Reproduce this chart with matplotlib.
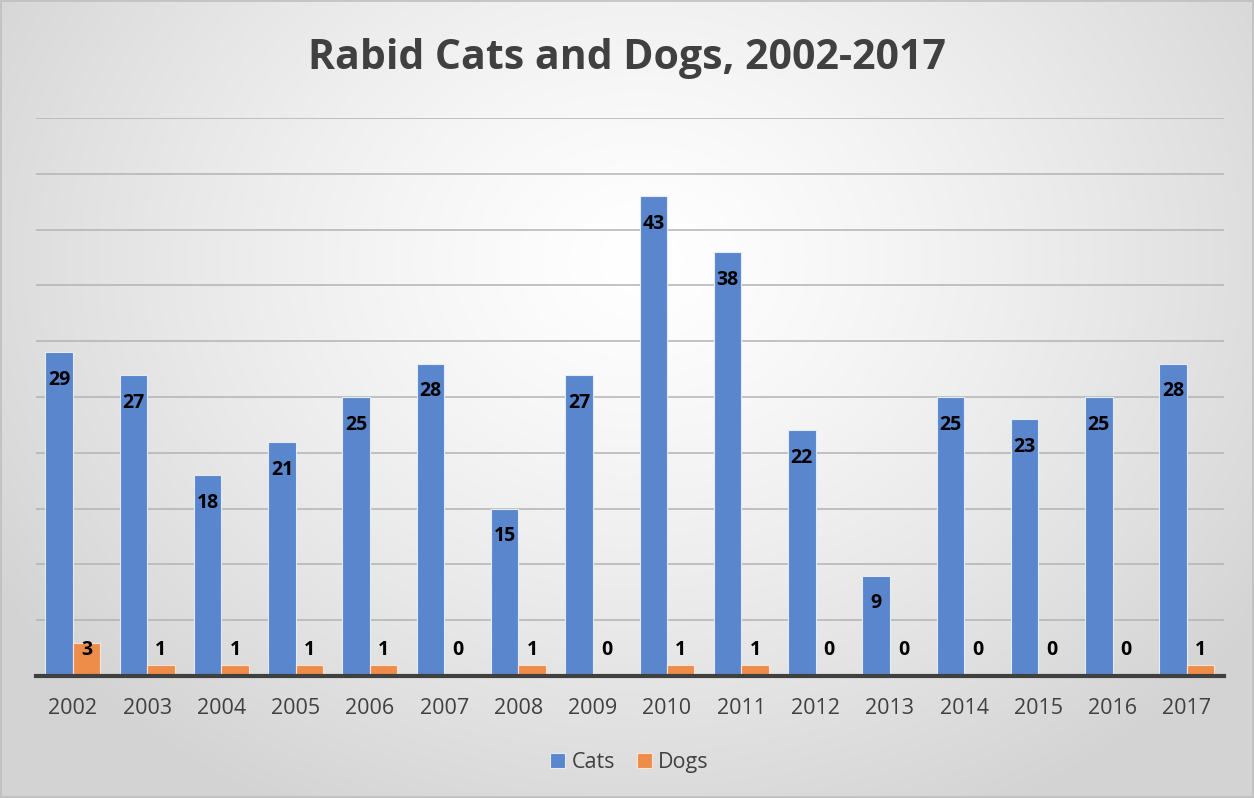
import numpy as np
import matplotlib
matplotlib.use("Agg")
import matplotlib.pyplot as plt
from matplotlib.patches import Rectangle

years = ["2002", "2003", "2004", "2005", "2006", "2007", "2008", "2009",
         "2010", "2011", "2012", "2013", "2014", "2015", "2016", "2017"]
cats = [29, 27, 18, 21, 25, 28, 15, 27, 43, 38, 22, 9, 25, 23, 25, 28]
dogs = [3, 1, 1, 1, 1, 0, 1, 0, 1, 1, 0, 0, 0, 0, 0, 1]

CAT_COLOR = "#5A86CD"
DOG_COLOR = "#EE8C4A"
TEXT = "#404040"

plt.rcParams["font.family"] = ["Open Sans", "DejaVu Sans"]

fig = plt.figure(figsize=(12.54, 7.98), dpi=100)

# radial gradient background
bg = fig.add_axes([0, 0, 1, 1], zorder=-10)
h, w = 798, 1254
yy, xx = np.mgrid[0:h, 0:w]
r = np.sqrt(((xx - 640) / 760.0) ** 2 + ((yy - 260) / 620.0) ** 2)
r = np.clip(r, 0, 1)
shade = 1.0 - 0.17 * r ** 1.3
bg.imshow(np.dstack([shade] * 3), extent=[0, 1, 0, 1], aspect="auto", origin="upper")
bg.add_patch(Rectangle((0.001, 0.001), 0.998, 0.998, fill=False, edgecolor="#BFBFBF", lw=1.2))
bg.set_axis_off()

ax = fig.add_axes([0.0285, 0.1529, 0.9476, 0.6992])
ax.patch.set_alpha(0)

x = np.arange(len(years))
bw = 0.37
ax.bar(x - bw / 2, cats, bw, color=CAT_COLOR, edgecolor="#E4ECF7", linewidth=0.8, label="Cats", zorder=3)
ax.bar(x + bw / 2, dogs, bw, color=DOG_COLOR, edgecolor="#FBE5D6", linewidth=0.8, label="Dogs", zorder=3)

for xi, v in zip(x - bw / 2, cats):
    ax.text(xi, max(v - 2.5, 2.3), str(v), ha="center", va="center",
            fontsize=14, fontweight="bold", color="black", zorder=5)
for xi, v in zip(x + bw / 2, dogs):
    ax.text(xi, max(v - 2.5, 2.3), str(v), ha="center", va="center",
            fontsize=14, fontweight="bold", color="black", zorder=5)

ax.set_xlim(-0.5, len(years) - 0.5)
ax.set_ylim(0, 50)
ax.set_yticks(np.arange(5, 51, 5))
ax.yaxis.grid(True, color="#B3B3B3", linewidth=1.1, zorder=0)
ax.tick_params(axis="y", left=False, labelleft=False)
ax.set_xticks(x)
ax.set_xticklabels(years, fontsize=15.5, color=TEXT)
ax.tick_params(axis="x", length=0, pad=16)
for s in ["top", "right", "left"]:
    ax.spines[s].set_visible(False)
ax.spines["bottom"].set_color("#404040")
ax.spines["bottom"].set_linewidth(3)
ax.spines["bottom"].set_zorder(4)

fig.text(0.5, 0.927, "Rabid Cats and Dogs, 2002-2017", ha="center", va="center",
         fontsize=29.5, fontweight="bold", color=TEXT)

leg = ax.legend(loc="center", bbox_to_anchor=(0.502, 0.045), bbox_transform=fig.transFigure,
                ncol=2, frameon=False, fontsize=15.5, handlelength=0.7, handleheight=0.7,
                handletextpad=0.3, columnspacing=1.0)
for t in leg.get_texts():
    t.set_color(TEXT)

fig.savefig("out.png", dpi=100)
